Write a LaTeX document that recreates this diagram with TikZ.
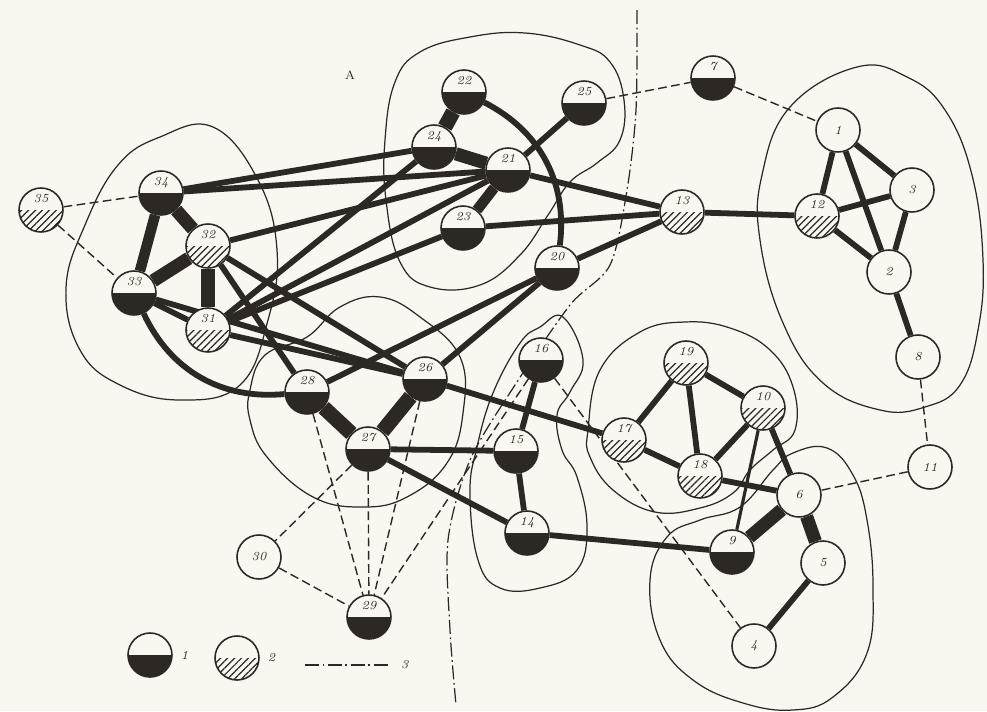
\documentclass[tikz,border=0pt]{standalone}
\usetikzlibrary{patterns.meta, positioning}
\definecolor{ink}{RGB}{46,40,36}
\definecolor{paper}{RGB}{250,247,240}
\pgfdeclarelayer{back}
\pgfdeclarelayer{edges}
\pgfsetlayers{back,edges,main}

\begin{document}
\begin{tikzpicture}[
        x=0.02cm, y=-0.02cm,
        vertex/.style={circle, draw=ink, line width=0.9pt, fill=paper, minimum size=8.8mm, inner sep=0pt, font=\itshape\scriptsize, text=ink},
        darkhalf/.style={vertex, text height=1.4mm, text depth=4.4mm,
            path picture={\fill[ink] (path picture bounding box.west) rectangle (path picture bounding box.south east);}},
        hatchhalf/.style={vertex, text height=1.4mm, text depth=4.4mm,
            path picture={\fill[pattern={Lines[angle=45,distance=2.8pt,line width=0.7pt]}, pattern color=ink] (path picture bounding box.west) rectangle (path picture bounding box.south east);}},
        heavy_edge/.style={draw=ink, line width=7.5pt},
        link_edge/.style={draw=ink, line width=3.3pt},
        light_edge/.style={draw=ink, line width=1.8pt},
        weak_edge/.style={draw=ink, line width=0.8pt, dash pattern=on 5pt off 2.5pt},
        contour/.style={draw=ink, line width=0.7pt},
        border/.style={draw=ink, line width=0.7pt, dash pattern=on 8pt off 2pt on 1pt off 2pt}
    ]

    \begin{pgfonlayer}{back}
    % paper and frame
    \fill[paper] (0,0) rectangle (987,711);

    % contours of the groups
    \draw[contour] plot[smooth cycle, tension=0.7] coordinates {(213,127) (160,137) (118,165) (85,225) (66,288) (80,350) (120,385) (180,400) (240,385) (268,320) (277,250) (258,180)};
    \draw[contour] plot[smooth cycle, tension=0.7] coordinates {(385,140) (395,82) (420,52) (470,37) (525,33) (580,45) (610,62) (624,100) (620,140) (597,163) (570,182) (548,215) (520,255) (480,285) (430,287) (400,262) (386,200)};
    \draw[contour] plot[smooth cycle, tension=0.7] coordinates {(857,67) (907,77) (945,110) (972,175) (983,260) (978,330) (960,385) (925,407) (880,410) (823,383) (783,323) (760,240) (762,175) (790,107)};
    \draw[contour] plot[smooth cycle, tension=0.7] coordinates {(588,430) (600,370) (640,332) (685,322) (730,328) (770,350) (793,387) (795,430) (773,450) (750,470) (733,493) (700,508) (655,512) (613,490) (590,457)};
    \draw[contour] plot[smooth cycle, tension=0.7] coordinates {(793,453) (827,448) (853,475) (867,520) (873,587) (867,653) (833,697) (793,710) (743,703) (693,680) (660,640) (650,580) (667,537) (700,520) (740,507) (773,470)};
    \draw[contour] plot[smooth cycle, tension=0.7] coordinates {(540,327) (563,317) (583,360) (570,392) (557,415) (562,450) (577,477) (587,527) (577,570) (540,588) (500,588) (478,560) (470,493) (477,447) (493,393) (520,343)};
    \draw[contour] plot[smooth cycle, tension=0.7] coordinates {(250,390) (265,355) (307,337) (340,307) (380,297) (420,317) (460,357) (463,413) (447,463) (407,497) (363,507) (313,497) (267,457) (250,420)};

    % dash-dot boundary line
    \draw[border] plot[smooth] coordinates {(637,10) (636,110) (627,190) (610,265) (570,305) (515,385) (470,460) (448,540) (450,630) (456,705)};
    \end{pgfonlayer}
    \useasboundingbox (0,0) rectangle (987,711);

    % vertices of the graph
    \node[vertex] (v1) at (838,130) {1};
    \node[vertex] (v2) at (889,272) {2};
    \node[vertex] (v3) at (912,190) {3};
    \node[vertex] (v4) at (754,646) {4};
    \node[vertex] (v5) at (823,563) {5};
    \node[vertex] (v6) at (799,495) {6};
    \node[darkhalf] (v7) at (713,78) {7};
    \node[vertex] (v8) at (918,357) {8};
    \node[darkhalf] (v9) at (732,552) {9};
    \node[hatchhalf] (v10) at (763,408) {10};
    \node[vertex] (v11) at (930,467) {11};
    \node[hatchhalf] (v12) at (817,216) {12};
    \node[hatchhalf] (v13) at (682,212) {13};
    \node[darkhalf] (v14) at (527,533) {14};
    \node[darkhalf] (v15) at (516,451) {15};
    \node[darkhalf] (v16) at (541,360) {16};
    \node[hatchhalf] (v17) at (624,440) {17};
    \node[hatchhalf] (v18) at (700,476) {18};
    \node[hatchhalf] (v19) at (686,363) {19};
    \node[darkhalf] (v20) at (557,268) {20};
    \node[darkhalf] (v21) at (508,170) {21};
    \node[darkhalf] (v22) at (464,92) {22};
    \node[darkhalf] (v23) at (463,228) {23};
    \node[darkhalf] (v24) at (434,147) {24};
    \node[darkhalf] (v25) at (584,103) {25};
    \node[darkhalf] (v26) at (425,379) {26};
    \node[darkhalf] (v27) at (368,449) {27};
    \node[darkhalf] (v28) at (307,392) {28};
    \node[darkhalf] (v29) at (369,617) {29};
    \node[vertex] (v30) at (259,557) {30};
    \node[hatchhalf] (v31) at (208,330) {31};
    \node[hatchhalf] (v32) at (208,246) {32};
    \node[darkhalf] (v33) at (134,293) {33};
    \node[darkhalf] (v34) at (161,193) {34};
    \node[hatchhalf] (v35) at (41,210) {35};

    \node[font=\scriptsize, text=ink] (mark) at (350,75) {A};

    \begin{pgfonlayer}{edges}
    % weak links (thin, dashed)
    \draw[weak_edge] (v35) -- (v34);
    \draw[weak_edge] (v35) -- (v33);
    \draw[weak_edge] (v25) -- (v7);
    \draw[weak_edge] (v7) -- (v1);
    \draw[weak_edge] (v8) -- (v11);
    \draw[weak_edge] (v11) -- (v6);
    \draw[weak_edge] (v16) -- (v4);
    \draw[weak_edge] (v27) -- (v29);
    \draw[weak_edge] (v28) -- (v29);
    \draw[weak_edge] (v26) -- (v29);
    \draw[weak_edge] (v16) -- (v29);
    \draw[weak_edge] (v27) -- (v30);
    \draw[weak_edge] (v30) -- (v29);

    % strong links (heavy)
    \draw[heavy_edge, line width=6pt] (v34) -- (v33);
    \draw[heavy_edge] (v34) -- (v32);
    \draw[heavy_edge] (v33) -- (v32);
    \draw[heavy_edge] (v32) -- (v31);
    \draw[heavy_edge, line width=8.5pt] (v24) -- (v22);
    \draw[heavy_edge] (v24) -- (v21);
    \draw[heavy_edge, line width=6pt] (v21) -- (v23);
    \draw[heavy_edge, line width=8.5pt] (v26) -- (v27);
    \draw[heavy_edge, line width=8.5pt] (v28) -- (v27);
    \draw[heavy_edge] (v6) -- (v9);
    \draw[heavy_edge] (v6) -- (v5);

    % ordinary links
    \draw[link_edge] (v33) -- (v31);
    \draw[link_edge] (v34) -- (v24);
    \draw[link_edge] (v34) -- (v21);
    \draw[link_edge] (v32) -- (v21);
    \draw[link_edge] (v31) -- (v24);
    \draw[link_edge] (v31) -- (v21);
    \draw[link_edge] (v31) -- (v23);
    \draw[link_edge] (v21) -- (v25);
    \draw[link_edge] (v22) to[bend left=35] (v20);
    \draw[link_edge] (v21) -- (v13);
    \draw[link_edge] (v23) -- (v13);
    \draw[link_edge] (v20) -- (v13);
    \draw[link_edge] (v13) -- (v12);
    \draw[link_edge] (v1) -- (v12);
    \draw[link_edge] (v1) -- (v2);
    \draw[link_edge] (v1) -- (v3);
    \draw[link_edge] (v12) -- (v3);
    \draw[link_edge] (v12) -- (v2);
    \draw[link_edge] (v3) -- (v2);
    \draw[link_edge] (v2) -- (v8);
    \draw[link_edge] (v20) -- (v26);
    \draw[link_edge] (v20) -- (v28);
    \draw[link_edge] (v33) to[bend right=35] (v28);
    \draw[link_edge] (v32) -- (v28);
    \draw[link_edge] (v32) -- (v26);
    \draw[link_edge] (v33) -- (v26);
    \draw[link_edge] (v31) -- (v26);
    \draw[link_edge] (v26) -- (v17);
    \draw[link_edge] (v27) -- (v15);
    \draw[link_edge] (v27) -- (v14);
    \draw[link_edge] (v15) -- (v16);
    \draw[link_edge] (v15) -- (v14);
    \draw[link_edge] (v14) -- (v9);
    \draw[link_edge] (v17) -- (v19);
    \draw[link_edge] (v17) -- (v18);
    \draw[link_edge] (v19) -- (v18);
    \draw[link_edge] (v19) -- (v10);
    \draw[link_edge] (v10) -- (v18);
    \draw[link_edge] (v10) -- (v6);
    \draw[link_edge] (v18) -- (v6);
    \draw[link_edge] (v5) -- (v4);
    \draw[light_edge] (v10) -- (v9);
    \end{pgfonlayer}

    % legend
    \node[darkhalf] (key1) at (150,655) {};
    \node[right=1pt of key1, font=\itshape\scriptsize, text=ink] (key1t) {1};
    \node[hatchhalf] (key2) at (237,658) {};
    \node[right=1pt of key2, font=\itshape\scriptsize, text=ink] (key2t) {2};
    \coordinate (key3a) at (305,665);
    \coordinate (key3b) at (388,665);
    \draw[border] (key3a) -- (key3b);
    \node[right=4pt of key3b, font=\itshape\scriptsize, text=ink] (key3t) {3};

\end{tikzpicture}
\end{document}
